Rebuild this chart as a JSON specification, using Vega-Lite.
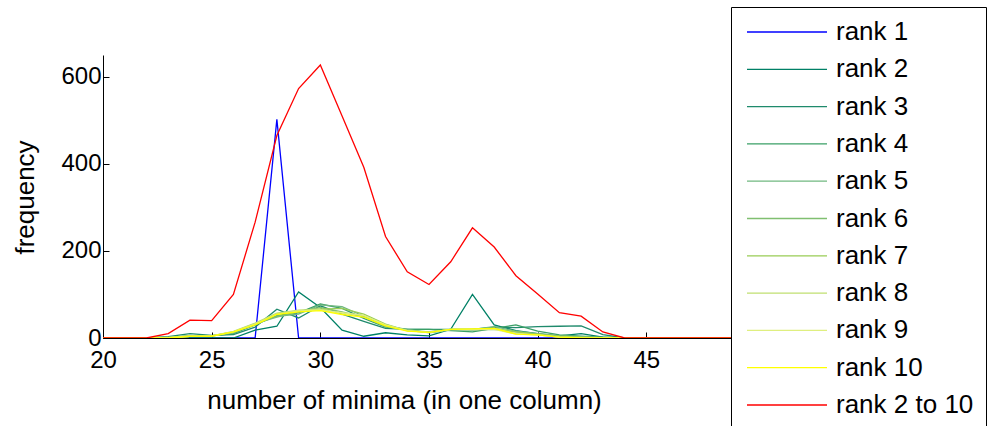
{
  "$schema": "https://vega.github.io/schema/vega-lite/v6.json",
  "width": 652,
  "height": 283,
  "autosize": {"type": "none"},
  "padding": {"left": 103, "top": 55, "right": 232, "bottom": 88},
  "background": "white",
  "config": {"view": {"stroke": null}, "font": "Liberation Sans"},
  "data": {"values": [
    {"x": 20, "rank 1": 0, "rank 2": 0, "rank 3": 0, "rank 4": 0, "rank 5": 0, "rank 6": 0, "rank 7": 0, "rank 8": 0, "rank 9": 0, "rank 10": 0, "rank 2 to 10": 0},
    {"x": 21, "rank 1": 0, "rank 2": 0, "rank 3": 0, "rank 4": 0, "rank 5": 0, "rank 6": 0, "rank 7": 0, "rank 8": 0, "rank 9": 0, "rank 10": 0, "rank 2 to 10": 0},
    {"x": 22, "rank 1": 0, "rank 2": 0, "rank 3": 0, "rank 4": 0, "rank 5": 0, "rank 6": 0, "rank 7": 0, "rank 8": 0, "rank 9": 0, "rank 10": 0, "rank 2 to 10": 0},
    {"x": 23, "rank 1": 0, "rank 2": 0, "rank 3": 3, "rank 4": 1, "rank 5": 2, "rank 6": 1, "rank 7": 1, "rank 8": 1, "rank 9": 1, "rank 10": 0, "rank 2 to 10": 10},
    {"x": 24, "rank 1": 0, "rank 2": 0, "rank 3": 10, "rank 4": 5, "rank 5": 5, "rank 6": 5, "rank 7": 4, "rank 8": 4, "rank 9": 4, "rank 10": 4, "rank 2 to 10": 41},
    {"x": 25, "rank 1": 0, "rank 2": 0, "rank 3": 6, "rank 4": 5, "rank 5": 5, "rank 6": 5, "rank 7": 5, "rank 8": 5, "rank 9": 5, "rank 10": 4, "rank 2 to 10": 40},
    {"x": 26, "rank 1": 0, "rank 2": 0, "rank 3": 8, "rank 4": 10, "rank 5": 12, "rank 6": 14, "rank 7": 13, "rank 8": 15, "rank 9": 14, "rank 10": 14, "rank 2 to 10": 100},
    {"x": 27, "rank 1": 0, "rank 2": 18, "rank 3": 25, "rank 4": 30, "rank 5": 32, "rank 6": 33, "rank 7": 32, "rank 8": 34, "rank 9": 32, "rank 10": 30, "rank 2 to 10": 266},
    {"x": 28, "rank 1": 502, "rank 2": 27, "rank 3": 66, "rank 4": 52, "rank 5": 50, "rank 6": 48, "rank 7": 56, "rank 8": 57, "rank 9": 55, "rank 10": 54, "rank 2 to 10": 465},
    {"x": 29, "rank 1": 0, "rank 2": 106, "rank 3": 46, "rank 4": 58, "rank 5": 55, "rank 6": 60, "rank 7": 62, "rank 8": 64, "rank 9": 62, "rank 10": 60, "rank 2 to 10": 573},
    {"x": 30, "rank 1": 0, "rank 2": 70, "rank 3": 74, "rank 4": 78, "rank 5": 76, "rank 6": 70, "rank 7": 66, "rank 8": 66, "rank 9": 64, "rank 10": 63, "rank 2 to 10": 627},
    {"x": 31, "rank 1": 0, "rank 2": 18, "rank 3": 55, "rank 4": 68, "rank 5": 72, "rank 6": 60, "rank 7": 68, "rank 8": 57, "rank 9": 58, "rank 10": 54, "rank 2 to 10": 510},
    {"x": 32, "rank 1": 0, "rank 2": 4, "rank 3": 38, "rank 4": 45, "rank 5": 50, "rank 6": 48, "rank 7": 55, "rank 8": 52, "rank 9": 52, "rank 10": 48, "rank 2 to 10": 392},
    {"x": 33, "rank 1": 0, "rank 2": 12, "rank 3": 22, "rank 4": 25, "rank 5": 28, "rank 6": 26, "rank 7": 32, "rank 8": 30, "rank 9": 30, "rank 10": 28, "rank 2 to 10": 233},
    {"x": 34, "rank 1": 0, "rank 2": 7, "rank 3": 20, "rank 4": 20, "rank 5": 20, "rank 6": 18, "rank 7": 17, "rank 8": 17, "rank 9": 17, "rank 10": 16, "rank 2 to 10": 152},
    {"x": 35, "rank 1": 0, "rank 2": 5, "rank 3": 20, "rank 4": 20, "rank 5": 12, "rank 6": 14, "rank 7": 13, "rank 8": 13, "rank 9": 13, "rank 10": 13, "rank 2 to 10": 123},
    {"x": 36, "rank 1": 0, "rank 2": 20, "rank 3": 20, "rank 4": 17, "rank 5": 18, "rank 6": 20, "rank 7": 20, "rank 8": 20, "rank 9": 20, "rank 10": 20, "rank 2 to 10": 175},
    {"x": 37, "rank 1": 0, "rank 2": 100, "rank 3": 20, "rank 4": 14, "rank 5": 20, "rank 6": 18, "rank 7": 20, "rank 8": 20, "rank 9": 20, "rank 10": 21, "rank 2 to 10": 253},
    {"x": 38, "rank 1": 0, "rank 2": 30, "rank 3": 25, "rank 4": 22, "rank 5": 26, "rank 6": 20, "rank 7": 22, "rank 8": 22, "rank 9": 20, "rank 10": 22, "rank 2 to 10": 209},
    {"x": 39, "rank 1": 0, "rank 2": 17, "rank 3": 24, "rank 4": 30, "rank 5": 16, "rank 6": 14, "rank 7": 14, "rank 8": 10, "rank 9": 9, "rank 10": 9, "rank 2 to 10": 143},
    {"x": 40, "rank 1": 0, "rank 2": 10, "rank 3": 26, "rank 4": 16, "rank 5": 10, "rank 6": 9, "rank 7": 9, "rank 8": 7, "rank 9": 7, "rank 10": 7, "rank 2 to 10": 101},
    {"x": 41, "rank 1": 0, "rank 2": 5, "rank 3": 27, "rank 4": 7, "rank 5": 5, "rank 6": 4, "rank 7": 4, "rank 8": 2, "rank 9": 2, "rank 10": 2, "rank 2 to 10": 58},
    {"x": 42, "rank 1": 0, "rank 2": 10, "rank 3": 28, "rank 4": 4, "rank 5": 3, "rank 6": 2, "rank 7": 2, "rank 8": 1, "rank 9": 0, "rank 10": 0, "rank 2 to 10": 50},
    {"x": 43, "rank 1": 0, "rank 2": 2, "rank 3": 8, "rank 4": 2, "rank 5": 1, "rank 6": 1, "rank 7": 0, "rank 8": 0, "rank 9": 0, "rank 10": 0, "rank 2 to 10": 14},
    {"x": 44, "rank 1": 0, "rank 2": 0, "rank 3": 0, "rank 4": 0, "rank 5": 0, "rank 6": 0, "rank 7": 0, "rank 8": 0, "rank 9": 0, "rank 10": 0, "rank 2 to 10": 0},
    {"x": 45, "rank 1": 0, "rank 2": 0, "rank 3": 0, "rank 4": 0, "rank 5": 0, "rank 6": 0, "rank 7": 0, "rank 8": 0, "rank 9": 0, "rank 10": 0, "rank 2 to 10": 0},
    {"x": 46, "rank 1": 0, "rank 2": 0, "rank 3": 0, "rank 4": 0, "rank 5": 0, "rank 6": 0, "rank 7": 0, "rank 8": 0, "rank 9": 0, "rank 10": 0, "rank 2 to 10": 0},
    {"x": 47, "rank 1": 0, "rank 2": 0, "rank 3": 0, "rank 4": 0, "rank 5": 0, "rank 6": 0, "rank 7": 0, "rank 8": 0, "rank 9": 0, "rank 10": 0, "rank 2 to 10": 0},
    {"x": 48, "rank 1": 0, "rank 2": 0, "rank 3": 0, "rank 4": 0, "rank 5": 0, "rank 6": 0, "rank 7": 0, "rank 8": 0, "rank 9": 0, "rank 10": 0, "rank 2 to 10": 0},
    {"x": 49, "rank 1": 0, "rank 2": 0, "rank 3": 0, "rank 4": 0, "rank 5": 0, "rank 6": 0, "rank 7": 0, "rank 8": 0, "rank 9": 0, "rank 10": 0, "rank 2 to 10": 0},
    {"x": 50, "rank 1": 0, "rank 2": 0, "rank 3": 0, "rank 4": 0, "rank 5": 0, "rank 6": 0, "rank 7": 0, "rank 8": 0, "rank 9": 0, "rank 10": 0, "rank 2 to 10": 0}
  ]},
  "transform": [
    {"fold": ["rank 1", "rank 2", "rank 3", "rank 4", "rank 5", "rank 6", "rank 7", "rank 8", "rank 9", "rank 10", "rank 2 to 10"], "as": ["series", "freq"]}
  ],
  "mark": {"type": "line", "strokeWidth": 1.3, "clip": true},
  "encoding": {
    "x": {
      "field": "x", "type": "quantitative",
      "scale": {"domain": [20, 50], "nice": false, "zero": false},
      "axis": {
        "title": "number of minima (in one column)",
        "values": [20, 25, 30, 35, 40, 45],
        "grid": false, "tickSize": -6, "tickColor": "black", "domainColor": "black",
        "labelFontSize": 24, "labelColor": "black", "labelPadding": 16, "labelFlush": false, "labelOverlap": false,
        "titleFontSize": 26, "titleFontWeight": "normal", "titleColor": "black",
        "titleX": 301, "titleY": 70, "titleAlign": "center", "titleBaseline": "alphabetic"
      }
    },
    "y": {
      "field": "freq", "type": "quantitative",
      "scale": {"domain": [0, 650], "nice": false},
      "axis": {
        "title": "frequency",
        "values": [0, 200, 400, 600],
        "grid": false, "tickSize": -6, "tickColor": "black", "domainColor": "black",
        "labelFontSize": 24, "labelColor": "black", "labelPadding": 8, "labelFlush": false, "labelOverlap": false,
        "titleFontSize": 26, "titleFontWeight": "normal", "titleColor": "black",
        "titleX": -78, "titleY": 142, "titleAngle": 270, "titleAlign": "center", "titleBaseline": "middle"
      }
    },
    "color": {
      "field": "series", "type": "nominal",
      "scale": {
        "domain": ["rank 1", "rank 2", "rank 3", "rank 4", "rank 5", "rank 6", "rank 7", "rank 8", "rank 9", "rank 10", "rank 2 to 10"],
        "range": ["#0000ff", "#008066", "#1f8a6c", "#3a9f66", "#70b880", "#80bf70", "#99cc55", "#c0df70", "#dfef80", "#ffff00", "#ff0000"]
      },
      "legend": {
        "title": null, "orient": "none", "legendX": 628, "legendY": -48,
        "fillColor": "white", "strokeColor": "black", "padding": 12,
        "symbolType": "M-10,0L10,0", "symbolSize": 64, "symbolStrokeWidth": 1.3,
        "symbolOffset": 31, "labelOffset": 36, "labelFontSize": 26, "labelColor": "black",
        "rowPadding": 11.3, "labelLimit": 300
      }
    }
  }
}
